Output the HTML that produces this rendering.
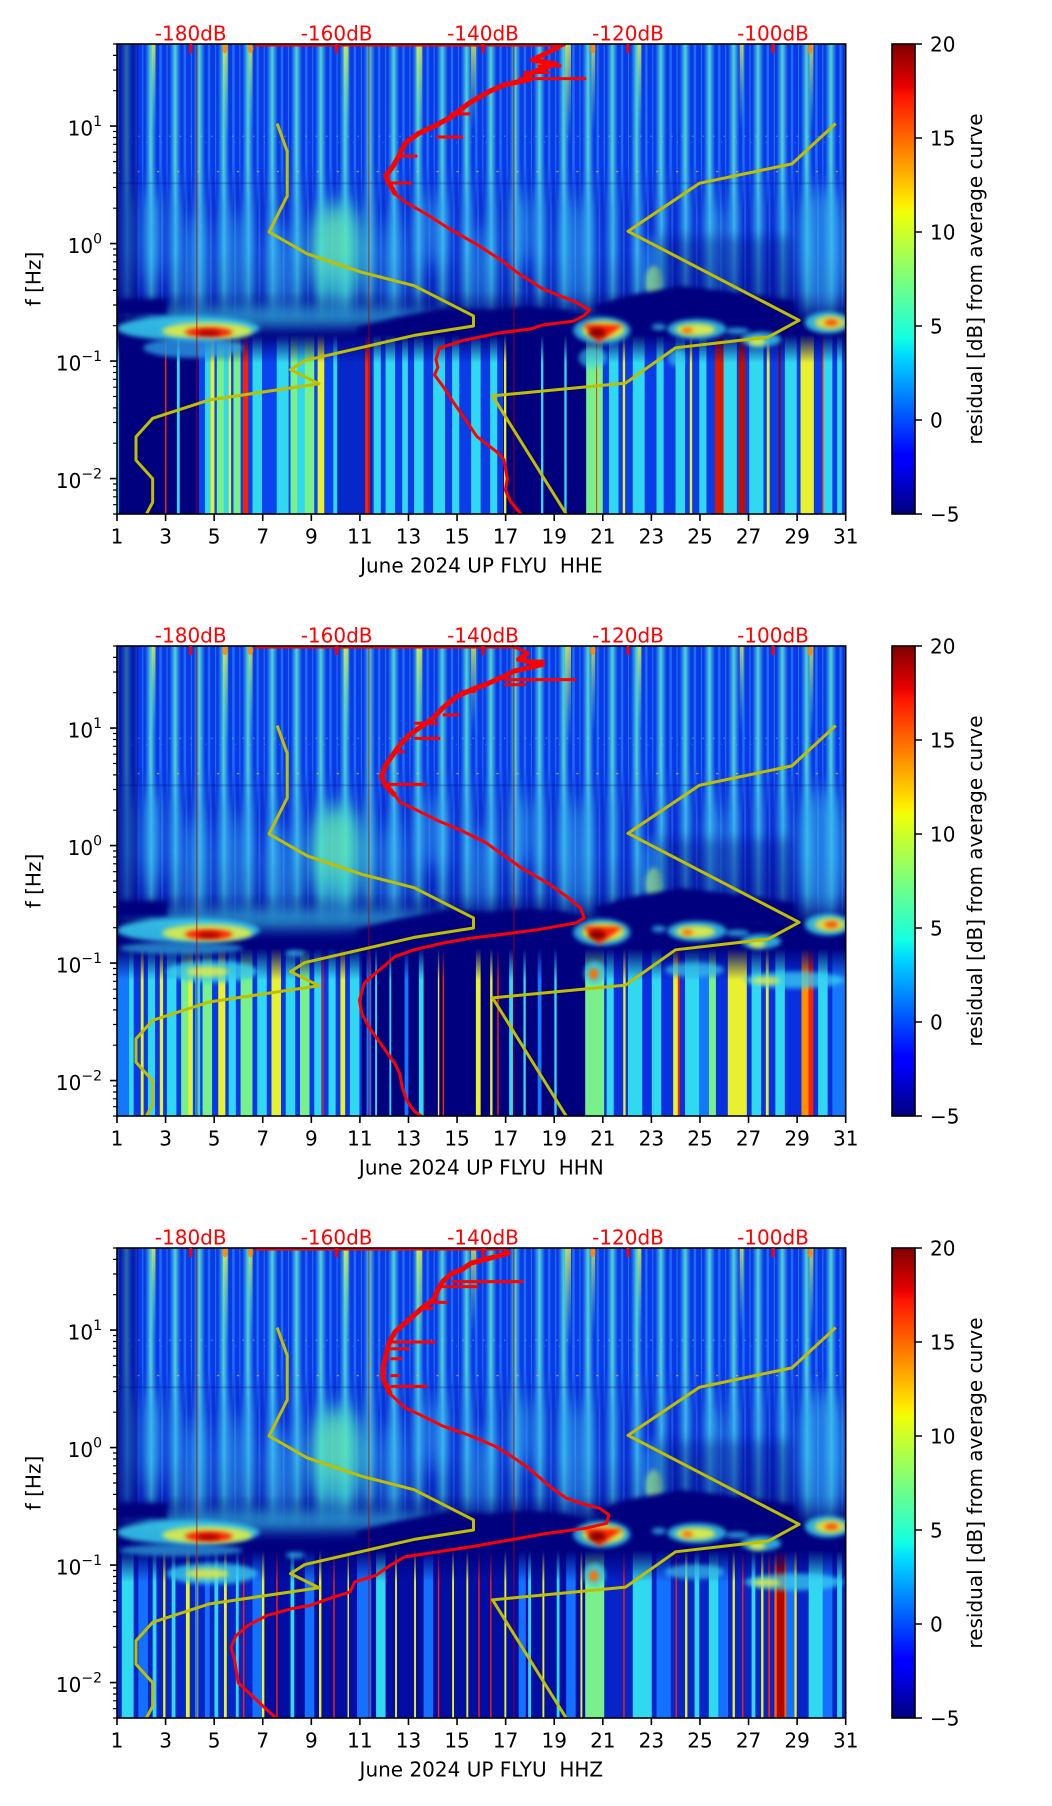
<!DOCTYPE html>
<html><head><meta charset="utf-8">
<style>
html,body{margin:0;padding:0;background:#fff}
svg{display:block}
text{font-family:"DejaVu Sans","Liberation Sans",sans-serif;font-size:20px}
</style></head><body>
<svg xmlns="http://www.w3.org/2000/svg" width="1052" height="1806" viewBox="0 0 1052 1806">
<defs>
<clipPath id="cz"><rect x="15" y="25" width="1533" height="1400"/></clipPath>
<linearGradient id="jet" x1="0" y1="1" x2="0" y2="0">
<stop offset="0" stop-color="#00007f"/><stop offset=".11" stop-color="#0000ff"/><stop offset=".125" stop-color="#0000ff"/><stop offset=".34" stop-color="#00dcff"/><stop offset=".375" stop-color="#14ffe2"/><stop offset=".5" stop-color="#7bff7b"/><stop offset=".64" stop-color="#efff08"/><stop offset=".66" stop-color="#ffec00"/><stop offset=".89" stop-color="#ff1300"/><stop offset=".91" stop-color="#e80000"/><stop offset="1" stop-color="#7f0000"/>
</linearGradient>
<linearGradient id="hgU"><stop offset="0" stop-color="#48d8f0" stop-opacity="0"/><stop offset=".5" stop-color="#58e8d0" stop-opacity=".9"/><stop offset="1" stop-color="#48d8f0" stop-opacity="0"/></linearGradient>
<linearGradient id="hgF"><stop offset="0" stop-color="#2a9cf4" stop-opacity="0"/><stop offset=".5" stop-color="#44ccee" stop-opacity=".85"/><stop offset="1" stop-color="#2a9cf4" stop-opacity="0"/></linearGradient>
<linearGradient id="vY" x1="0" y1="0" x2="0" y2="1"><stop offset="0" stop-color="#e8f040" stop-opacity=".8"/><stop offset="1" stop-color="#40e0c0" stop-opacity="0"/></linearGradient>
<linearGradient id="gmU" gradientUnits="userSpaceOnUse" x1="0" y1="380" x2="0" y2="520"><stop offset="0" stop-color="#fff"/><stop offset="1" stop-color="#000"/></linearGradient>
<linearGradient id="gmF" gradientUnits="userSpaceOnUse" x1="0" y1="760" x2="0" y2="860"><stop offset="0" stop-color="#fff"/><stop offset="1" stop-color="#000"/></linearGradient>
<linearGradient id="gD" gradientUnits="userSpaceOnUse" x1="0" y1="640" x2="0" y2="850"><stop offset="0" stop-color="#000060" stop-opacity="0"/><stop offset="1" stop-color="#000060" stop-opacity=".35"/></linearGradient>
<linearGradient id="gmS1" gradientUnits="userSpaceOnUse" x1="0" y1="890" x2="0" y2="975"><stop offset="0" stop-color="#000"/><stop offset="1" stop-color="#fff"/></linearGradient>
<linearGradient id="gmS23" gradientUnits="userSpaceOnUse" x1="0" y1="925" x2="0" y2="1020"><stop offset="0" stop-color="#000"/><stop offset="1" stop-color="#fff"/></linearGradient>
<mask id="mU" maskUnits="userSpaceOnUse" x="0" y="0" width="1600" height="1500"><rect x="0" y="0" width="1600" height="1500" fill="url(#gmU)"/></mask>
<mask id="mF" maskUnits="userSpaceOnUse" x="0" y="0" width="1600" height="1500"><rect x="0" y="0" width="1600" height="1500" fill="url(#gmF)"/></mask>
<mask id="mS1" maskUnits="userSpaceOnUse" x="0" y="0" width="1600" height="1500"><rect x="0" y="0" width="1600" height="1500" fill="url(#gmS1)"/></mask>
<mask id="mS23" maskUnits="userSpaceOnUse" x="0" y="0" width="1600" height="1500"><rect x="0" y="0" width="1600" height="1500" fill="url(#gmS23)"/></mask>
<filter id="b1" x="-1" y="-1" width="3" height="3"><feGaussianBlur stdDeviation="5 7"/></filter>
<filter id="b2" x="-1" y="-1" width="3" height="3"><feGaussianBlur stdDeviation="12 18"/></filter>
<filter id="b3" x="-1" y="-1" width="3" height="3"><feGaussianBlur stdDeviation="20 30"/></filter>
<pattern id="pU" patternUnits="userSpaceOnUse" x="15" y="0" width="51.1" height="1500">
<rect width="51.1" height="1500" fill="#0a3ae8"/>
<rect x="8" width="24" height="1500" fill="url(#hgU)"/>
<rect x="38" width="5" height="1500" fill="#2a90ff" opacity=".6"/>
<rect x="2" width="2" height="1500" fill="#30c0ff" opacity=".5"/>
</pattern>
<pattern id="pF" patternUnits="userSpaceOnUse" x="15" y="0" width="51.1" height="1500">
<rect width="51.1" height="1500" fill="#0c30d4"/>
<rect x="1" width="40" height="1500" fill="url(#hgF)"/>
<rect x="42" width="4" height="1500" fill="#2a80ff" opacity=".5"/>
</pattern>

<g id="upper">
<rect x="15" y="25" width="1533" height="1400" fill="#00007f"/>
<rect x="15" y="25" width="1533" height="860" fill="url(#pF)" mask="url(#mF)"/>
<rect x="15" y="560" width="1533" height="300" fill="url(#gD)"/>
<rect x="15" y="25" width="1533" height="520" fill="url(#pU)" mask="url(#mU)"/>
<rect x="15" y="437" width="1533" height="6" fill="#000070" opacity=".22"/>
<line x1="15" y1="405" x2="1548" y2="405" stroke="#f0d020" stroke-width="4" stroke-dasharray="5 37" opacity=".6"/>
<line x1="15" y1="300" x2="1548" y2="300" stroke="#80f0c0" stroke-width="4" stroke-dasharray="3 19" opacity=".45"/>
<line x1="15" y1="318" x2="1548" y2="318" stroke="#80f0c0" stroke-width="3" stroke-dasharray="2 29" opacity=".35"/>
<g fill="url(#vY)">
<rect x="88" y="25" width="8" height="260"/><rect x="238" y="25" width="10" height="300"/><rect x="292" y="25" width="8" height="260"/><rect x="492" y="25" width="10" height="300"/><rect x="645" y="25" width="12" height="320"/><rect x="760" y="25" width="10" height="260"/><rect x="958" y="25" width="12" height="300"/><rect x="1013" y="25" width="8" height="260"/><rect x="1110" y="25" width="8" height="260"/><rect x="1325" y="25" width="8" height="260"/><rect x="1472" y="25" width="8" height="260"/>
</g>
<g fill="#ff8000" opacity=".8"><ellipse cx="242" cy="38" rx="6" ry="14"/><ellipse cx="296" cy="38" rx="6" ry="14"/><ellipse cx="1016" cy="38" rx="6" ry="14"/><ellipse cx="1473" cy="40" rx="6" ry="14"/></g>
<rect x="15" y="25" width="45" height="800" fill="#000080" opacity=".5"/>
</g>

<g id="midA">
<g filter="url(#b3)" fill="#38bcf0" opacity=".55">
<ellipse cx="90" cy="600" rx="22" ry="140"/><ellipse cx="180" cy="680" rx="26" ry="150"/><ellipse cx="265" cy="670" rx="24" ry="150"/><ellipse cx="360" cy="690" rx="30" ry="130"/><ellipse cx="595" cy="680" rx="24" ry="140"/><ellipse cx="780" cy="690" rx="22" ry="130"/><ellipse cx="980" cy="650" rx="30" ry="170"/><ellipse cx="1280" cy="640" rx="24" ry="150"/><ellipse cx="1500" cy="640" rx="55" ry="190"/><ellipse cx="870" cy="580" rx="24" ry="110"/><ellipse cx="680" cy="580" rx="24" ry="110"/>
</g>
<ellipse cx="480" cy="650" rx="62" ry="160" fill="#40dcd0" opacity=".75" filter="url(#b3)"/>
<ellipse cx="475" cy="620" rx="35" ry="100" fill="#90ff90" opacity=".4" filter="url(#b3)"/>
<ellipse cx="1145" cy="700" rx="28" ry="100" fill="#30b4f0" opacity=".5" filter="url(#b2)"/>
<ellipse cx="1145" cy="735" rx="18" ry="50" fill="#a0f080" opacity=".7" filter="url(#b1)"/>
<ellipse cx="380" cy="838" rx="330" ry="32" fill="#38c8f0" opacity=".6" filter="url(#b2)"/>
<g fill="#00007f" filter="url(#b1)">
<polygon points="520,870 600,840 700,812 800,818 880,808 960,818 1000,835 1000,1000 700,1000 520,960"/>
<polygon points="1020,805 1090,775 1200,745 1320,765 1440,790 1445,848 1300,850 1180,855 1090,858 1040,850"/>
<rect x="15" y="785" width="105" height="45"/>
<rect x="15" y="918" width="1533" height="36" opacity=".5"/>
</g>
<polygon points="1150,600 1440,600 1440,800 1150,760" fill="#000080" opacity=".35" filter="url(#b2)"/>
</g>

<g id="midB">
<ellipse cx="165" cy="872" rx="150" ry="36" fill="#38d0f0" opacity=".85" filter="url(#b1)"/>
<ellipse cx="205" cy="880" rx="95" ry="26" fill="#e8f040" opacity=".85" filter="url(#b1)"/>
<ellipse cx="208" cy="884" rx="50" ry="15" fill="#ff2000" filter="url(#b1)"/>
<ellipse cx="208" cy="886" rx="24" ry="8" fill="#a00000" filter="url(#b1)"/>
<ellipse cx="1035" cy="878" rx="60" ry="40" fill="#38d0f0" opacity=".8" filter="url(#b1)"/>
<ellipse cx="1038" cy="877" rx="45" ry="27" fill="#f0f030" opacity=".9" filter="url(#b1)"/>
<polygon points="995,860 1080,862 1028,915" fill="#ff2000" filter="url(#b1)"/>
<ellipse cx="1025" cy="885" rx="18" ry="14" fill="#8a0000" filter="url(#b1)"/>
<ellipse cx="1235" cy="874" rx="62" ry="30" fill="#38d0f0" opacity=".8" filter="url(#b1)"/>
<ellipse cx="1232" cy="876" rx="42" ry="18" fill="#e8f040" opacity=".9" filter="url(#b1)"/>
<ellipse cx="1215" cy="878" rx="12" ry="8" fill="#ff6000" filter="url(#b1)"/>
<ellipse cx="1370" cy="905" rx="42" ry="22" fill="#38d0f0" opacity=".8" filter="url(#b1)"/>
<ellipse cx="1362" cy="912" rx="18" ry="12" fill="#e8f040" opacity=".9" filter="url(#b1)"/>
<ellipse cx="1510" cy="855" rx="48" ry="32" fill="#38d0f0" opacity=".85" filter="url(#b1)"/>
<ellipse cx="1515" cy="855" rx="32" ry="20" fill="#f0e030" opacity=".9" filter="url(#b1)"/>
<ellipse cx="1518" cy="855" rx="14" ry="9" fill="#ff4000" filter="url(#b1)"/>
<ellipse cx="1320" cy="880" rx="25" ry="10" fill="#38c8f0" opacity=".7" filter="url(#b1)"/>
<ellipse cx="1155" cy="868" rx="15" ry="10" fill="#38c8f0" opacity=".7" filter="url(#b1)"/>
</g>

<g id="sec23">
<ellipse cx="150" cy="925" rx="130" ry="18" fill="#38c8f0" opacity=".6" filter="url(#b1)"/>
<ellipse cx="215" cy="995" rx="95" ry="32" fill="#38d0f0" opacity=".8" filter="url(#b1)"/>
<ellipse cx="205" cy="995" rx="45" ry="16" fill="#e8f040" opacity=".8" filter="url(#b1)"/>
<ellipse cx="1020" cy="1000" rx="22" ry="35" fill="#38d0f0" opacity=".8" filter="url(#b1)"/>
<ellipse cx="1018" cy="1002" rx="10" ry="18" fill="#ff7000" filter="url(#b1)"/>
<ellipse cx="1230" cy="990" rx="62" ry="22" fill="#38c8f0" opacity=".7" filter="url(#b1)"/>
<ellipse cx="1440" cy="1020" rx="105" ry="25" fill="#38d0f0" opacity=".75" filter="url(#b1)"/>
<ellipse cx="1380" cy="1022" rx="30" ry="12" fill="#e8f040" opacity=".8" filter="url(#b1)"/>
<ellipse cx="390" cy="940" rx="20" ry="10" fill="#38c8f0" opacity=".7" filter="url(#b1)"/>
</g>

<g id="ovl" fill="none">
<path d="M183 25V1425M545 25V1425M850 25V1425" stroke="#b00000" stroke-width="1" vector-effect="non-scaling-stroke" opacity=".8"/>
<path d="M352 262L373 345L373 478L335 585L415 650L530 705L640 745L765 835L765 865L640 893L410 968L380 995L440 1037L210 1085L90 1140L55 1195L55 1265L90 1320L90 1390L77 1425" stroke="#bfbf00" stroke-width="3" stroke-linejoin="round" vector-effect="non-scaling-stroke"/>
<path d="M1527 262L1435 382L1240 440L1090 583L1450 848L1385 898L1190 930L1085 1035L805 1073L960 1425" stroke="#bfbf00" stroke-width="3" stroke-linejoin="round" vector-effect="non-scaling-stroke"/>
</g>

<g id="ax">
<rect x="117" y="44" width="728.7" height="470" fill="none" stroke="#000" stroke-width="1.6"/>
<g fill="#ff0000"><rect x="189.2" y="44" width="3" height="9"/><rect x="335.1" y="44" width="3" height="9"/><rect x="481.5" y="44" width="3" height="9"/><rect x="626.5" y="44" width="3" height="9"/><rect x="771.5" y="44" width="3" height="9"/></g>
<g fill="#ff0000" text-anchor="middle"><text x="190.7" y="40.5">-180dB</text><text x="336.6" y="40.5">-160dB</text><text x="483" y="40.5">-140dB</text><text x="628" y="40.5">-120dB</text><text x="773" y="40.5">-100dB</text></g>
<path d="M117 514v7M165.58 514v7M214.16 514v7M262.74 514v7M311.32 514v7M359.9 514v7M408.48 514v7M457.06 514v7M505.64 514v7M554.22 514v7M602.8 514v7M651.38 514v7M699.96 514v7M748.54 514v7M797.12 514v7M845.7 514v7M117 126.1h-7M117 243.6h-7M117 361.1h-7M117 478.6h-7" stroke="#000" stroke-width="1.6" fill="none"/>
<path d="M117 44h-4M117 55.4h-4M117 70h-4M117 90.7h-4M117 131.5h-4M117 137.5h-4M117 144.3h-4M117 152.2h-4M117 161.5h-4M117 172.9h-4M117 187.5h-4M117 208.2h-4M117 249h-4M117 255h-4M117 261.8h-4M117 269.7h-4M117 279h-4M117 290.4h-4M117 305h-4M117 325.7h-4M117 366.5h-4M117 372.5h-4M117 379.3h-4M117 387.2h-4M117 396.5h-4M117 407.9h-4M117 422.5h-4M117 443.2h-4M117 484h-4M117 490h-4M117 496.8h-4M117 504.7h-4M117 514h-4" stroke="#000" stroke-width="1.2" fill="none"/>
<g text-anchor="middle"><text x="117" y="543.5">1</text><text x="165.58" y="543.5">3</text><text x="214.16" y="543.5">5</text><text x="262.74" y="543.5">7</text><text x="311.32" y="543.5">9</text><text x="359.9" y="543.5">11</text><text x="408.48" y="543.5">13</text><text x="457.06" y="543.5">15</text><text x="505.64" y="543.5">17</text><text x="554.22" y="543.5">19</text><text x="602.8" y="543.5">21</text><text x="651.38" y="543.5">23</text><text x="699.96" y="543.5">25</text><text x="748.54" y="543.5">27</text><text x="797.12" y="543.5">29</text><text x="845.7" y="543.5">31</text></g>
<g text-anchor="end"><text x="102" y="135.5">10<tspan dy="-9.5" font-size="14">1</tspan></text><text x="102" y="253">10<tspan dy="-9.5" font-size="14">0</tspan></text><text x="102" y="370.5">10<tspan dy="-9.5" font-size="14">−1</tspan></text><text x="102" y="488">10<tspan dy="-9.5" font-size="14">−2</tspan></text></g>
<text transform="translate(40.5,279) rotate(-90)" text-anchor="middle">f [Hz]</text>
<rect x="892" y="44" width="23" height="470" fill="url(#jet)" stroke="#000" stroke-width="1.6"/>
<path d="M915 514h7M915 420h7M915 326h7M915 232h7M915 138h7M915 44h7" stroke="#000" stroke-width="1.6"/>
<g><text x="930" y="521.3">−5</text><text x="930" y="427.3">0</text><text x="930" y="333.3">5</text><text x="930" y="239.3">10</text><text x="930" y="145.3">15</text><text x="930" y="51.3">20</text></g>
<text transform="translate(982,279) rotate(-90)" text-anchor="middle">residual [dB] from average curve</text>
</g>
</defs>

<rect width="1052" height="1806" fill="#fff"/>

<!-- Panel 1 HHE -->
<g transform="translate(109.87,35.607) scale(0.47534,0.335714)" clip-path="url(#cz)">
<use href="#upper"/>
<use href="#midA"/>
<g mask="url(#mS1)">
<rect x="187" y="880" width="293" height="545" fill="#0a44f0"/>
<rect x="480" y="880" width="71" height="545" fill="#0628c8"/>
<rect x="551" y="880" width="276" height="545" fill="#0a3ce8"/>
<rect x="1037" y="880" width="511" height="545" fill="#0a3ce8"/>
<path fill="#30d8f0" d="M16 880h3V1425h-3zM141 880h6V1425h-6zM200 880h15V1425h-15zM240 880h12V1425h-12zM300 880h20V1425h-20zM351 880h25V1425h-25zM395 880h20V1425h-20zM470 880h8V1425h-8zM555 880h15V1425h-15zM580 880h20V1425h-20zM615 880h12V1425h-12zM640 880h20V1425h-20zM680 880h25V1425h-25zM720 880h15V1425h-15zM760 880h20V1425h-20zM800 880h15V1425h-15zM907 880h5V1425h-5zM956 880h5V1425h-5zM1050 880h20V1425h-20zM1100 880h25V1425h-25zM1150 880h15V1425h-15zM1190 880h20V1425h-20zM1240 880h15V1425h-15zM1291 880h28V1425h-28zM1345 880h30V1425h-30zM1420 880h25V1425h-25zM1500 880h20V1425h-20zM1530 880h10V1425h-10z"/>
<path fill="#78f08c" d="M225 880h15V1425h-15zM260 880h15V1425h-15zM380 880h15V1425h-15zM410 880h20V1425h-20zM1002 880h35V1425h-35z"/>
<path fill="#e8f030" d="M212 880h8V1425h-8zM250 880h5V1425h-5zM437 880h14V1425h-14zM829 880h5V1425h-5zM1079 880h5V1425h-5zM1220 880h5V1425h-5zM1382 880h6V1425h-6zM1453 880h28V1425h-28z"/>
<path fill="#ff2000" d="M116 880h3V1425h-3zM280 880h11V1425h-11zM537 880h10V1425h-10zM1023 880h2V1425h-2zM1498 880h3V1425h-3z"/>
<path fill="#d81800" d="M1273 880h18V1425h-18z"/>
<path fill="#c01000" d="M1323 880h14V1425h-14z"/>
<path fill="#900000" d="M1407 880h4V1425h-4z"/>
</g>
<use href="#midB"/>
<ellipse cx="175" cy="930" rx="105" ry="30" fill="#30b0f0" opacity=".7" filter="url(#b1)"/>
<ellipse cx="1016" cy="960" rx="30" ry="30" fill="#38d0f0" opacity=".6" filter="url(#b1)"/>
<ellipse cx="1192" cy="960" rx="18" ry="25" fill="#38d0f0" opacity=".6" filter="url(#b1)"/>
<use href="#ovl"/>
<g fill="none" stroke="#ff0000" stroke-linejoin="round">
<path vector-effect="non-scaling-stroke" stroke-width="3" d="M305 28H956L945 33L889 73L938 84L903 102L875 119L884 130L829 147L800 165L758 199L715 245L686 267L651 290L622 319L608 359L594 393L580 418L587 439L601 473L622 496L665 531L715 576L772 622L822 668L865 714L885 731L910 754L980 794L1009 817L998 834L974 851L910 862L885 874L822 885L743 908L693 931L686 965L690 988L683 1011L701 1045L722 1091L750 1148L772 1194L793 1217L814 1240L829 1263L836 1320L832 1354L843 1388L865 1425"/>
<path vector-effect="non-scaling-stroke" stroke-width="5" d="M945 33L889 73L938 84L903 102L875 119L884 130L829 147L800 165L758 199L715 245L686 267L651 290L622 319L608 359L594 393L580 418L587 439L601 473"/>
<path vector-effect="non-scaling-stroke" stroke-width="3" d="M860 128H1002M715 233H758M686 302H743M608 359H647M587 439H636M900 90H950M870 110H925"/>
</g>
</g>

<!-- Panel 2 HHN -->
<g transform="translate(109.87,637.607) scale(0.47534,0.335714)" clip-path="url(#cz)">
<use href="#upper"/>
<use href="#midA"/>
<g mask="url(#mS23)">
<rect x="15" y="900" width="515" height="525" fill="#0838e8"/>
<rect x="1040" y="900" width="508" height="525" fill="#0830e0"/>
<path fill="#30d8f0" d="M40 900h10V1425h-10zM80 900h15V1425h-15zM120 900h20V1425h-20zM180 900h10V1425h-10zM250 900h15V1425h-15zM310 900h20V1425h-20zM370 900h20V1425h-20zM430 900h15V1425h-15zM460 900h15V1425h-15zM505 900h20V1425h-20zM558 900h4V1425h-4zM588 900h4V1425h-4zM650 900h10V1425h-10zM840 900h8V1425h-8zM870 900h5V1425h-5zM935 900h5V1425h-5zM1045 900h15V1425h-15zM1090 900h30V1425h-30zM1140 900h20V1425h-20zM1210 900h30V1425h-30zM1350 900h20V1425h-20zM1400 900h20V1425h-20zM1490 900h20V1425h-20z"/>
<path fill="#78f08c" d="M150 900h25V1425h-25zM195 900h20V1425h-20zM275 900h25V1425h-25zM400 900h20V1425h-20zM1260 900h15V1425h-15zM1000 900h40V1425h-40z"/>
<path fill="#e8f030" d="M65 900h6V1425h-6zM105 900h7V1425h-7zM165 900h8V1425h-8zM228 900h15V1425h-15zM340 900h20V1425h-20zM485 900h10V1425h-10zM690 900h3V1425h-3zM770 900h10V1425h-10zM800 900h5V1425h-5zM1080 900h5V1425h-5zM1185 900h10V1425h-10zM1300 900h40V1425h-40zM1380 900h6V1425h-6z"/>
<path fill="#1478ff" d="M15 900h25V1425h-25zM540 900h10V1425h-10zM620 900h8V1425h-8zM900 900h8V1425h-8zM1520 900h28V1425h-28zM1240 900h20V1425h-20z"/>
<path fill="#ff9000" d="M1455 900h15V1425h-15z"/>
<path fill="#ff2000" d="M447 900h3V1425h-3zM700 900h3V1425h-3zM815 900h3V1425h-3zM1195 900h4V1425h-4zM1470 900h10V1425h-10z"/>
</g>
<use href="#midB"/>
<use href="#sec23"/>
<use href="#ovl"/>
<g fill="none" stroke="#ff0000" stroke-linejoin="round">
<path vector-effect="non-scaling-stroke" stroke-width="3" d="M305 28H850L880 45L860 65L910 80L850 100L830 115L790 140L770 150L730 175L700 210L680 240L650 270L630 290L610 320L595 350L580 380L572 415L580 440L600 470L610 490L640 510L690 545L740 575L790 610L830 650L870 690L920 730L960 770L990 805L998 835L980 850L900 870L820 885L760 895L700 910L640 930L600 950L580 975L550 1010L535 1030L525 1080L530 1120L545 1160L565 1200L590 1250L600 1270L610 1300L615 1340L625 1380L640 1410L655 1425"/>
<path vector-effect="non-scaling-stroke" stroke-width="5" d="M880 45L860 65L910 80L850 100L830 115L790 140L770 150L730 175L700 210L680 240L650 270L630 290L610 320L595 350L580 380L572 415L580 440L600 470"/>
<path vector-effect="non-scaling-stroke" stroke-width="3" d="M830 125H980M830 140H875M740 160H770M700 230H735M640 255H690M640 300H695M600 340H620M580 437H665M880 70H915"/>
</g>
</g>

<!-- Panel 3 HHZ -->
<g transform="translate(109.87,1239.607) scale(0.47534,0.335714)" clip-path="url(#cz)">
<use href="#upper"/>
<use href="#midA"/>
<g mask="url(#mS23)">
<rect x="15" y="900" width="1533" height="525" fill="#0624c8"/>
<rect x="300" y="900" width="700" height="525" fill="#00008a" opacity=".6"/>
<path fill="#30d8f0" d="M25 900h25V1425h-25zM90 900h8V1425h-8zM130 900h8V1425h-8zM180 900h6V1425h-6zM220 900h8V1425h-8zM265 900h6V1425h-6zM380 900h8V1425h-8zM560 900h20V1425h-20zM880 900h6V1425h-6zM940 900h6V1425h-6zM1100 900h40V1425h-40zM1230 900h10V1425h-10zM1260 900h40V1425h-40zM1350 900h8V1425h-8zM1470 900h30V1425h-30zM1530 900h10V1425h-10z"/>
<path fill="#1470ff" d="M60 900h20V1425h-20zM200 900h10V1425h-10zM300 900h20V1425h-20zM410 900h20V1425h-20zM520 900h30V1425h-30zM660 900h20V1425h-20zM860 900h15V1425h-15zM960 900h20V1425h-20zM1150 900h30V1425h-30zM1280 900h20V1425h-20zM1420 900h20V1425h-20zM1500 900h20V1425h-20z"/>
<path fill="#78f08c" d="M1000 900h40V1425h-40z"/>
<path fill="#e8f030" d="M112 900h5V1425h-5zM160 900h8V1425h-8zM240 900h6V1425h-6zM320 900h5V1425h-5zM440 900h5V1425h-5zM500 900h3V1425h-3zM600 900h4V1425h-4zM640 900h4V1425h-4zM720 900h4V1425h-4zM750 900h4V1425h-4zM830 900h4V1425h-4zM910 900h4V1425h-4zM990 900h4V1425h-4zM1210 900h5V1425h-5zM1310 900h5V1425h-5zM1370 900h5V1425h-5zM1440 900h5V1425h-5z"/>
<path fill="#ff2000" d="M280 900h3V1425h-3zM350 900h3V1425h-3zM470 900h3V1425h-3zM690 900h3V1425h-3zM775 900h3V1425h-3zM800 900h3V1425h-3zM1080 900h3V1425h-3zM1190 900h3V1425h-3zM1330 900h3V1425h-3zM1385 900h4V1425h-4z"/>
<path fill="#ff6000" d="M1398 900h25V1425h-25z"/>
<path fill="#b00800" d="M1403 900h16V1425h-16z"/>
</g>
<use href="#midB"/>
<use href="#sec23"/>
<use href="#ovl"/>
<g fill="none" stroke="#ff0000" stroke-linejoin="round">
<path vector-effect="non-scaling-stroke" stroke-width="3" d="M305 28H830L840 40L800 55L760 70L740 90L720 100L700 125L690 150L680 180L660 200L640 225L620 250L600 275L588 305L585 320L580 350L575 380L575 415L590 460L605 480L620 500L650 520L700 555L760 585L810 615L850 650L880 680L905 710L930 740L960 770L990 785L1030 800L1050 820L1045 845L1000 860L920 875L840 895L760 915L690 930L620 945L590 970L560 1000L515 1020L505 1050L470 1065L420 1090L380 1100L330 1120L290 1150L265 1180L255 1215L262 1250L270 1320L300 1360L330 1400L350 1425"/>
<path vector-effect="non-scaling-stroke" stroke-width="5" d="M840 40L800 55L760 70L740 90L720 100L700 125L690 150L680 180L660 200L640 225L620 250L600 275L588 305L585 320L580 350L575 380L575 415L590 460"/>
<path vector-effect="non-scaling-stroke" stroke-width="3" d="M720 125H870M690 140H775M680 187H710M650 205H680M590 305H685M590 325H630M590 355H615M590 405H610M590 437H668"/>
</g>
</g>

<use href="#ax"/>
<use href="#ax" transform="translate(0,602)"/>
<use href="#ax" transform="translate(0,1204)"/>
<text x="481.35" y="572.5" text-anchor="middle" style="white-space:pre">June 2024 UP FLYU  HHE</text>
<text x="481.35" y="1174.5" text-anchor="middle" style="white-space:pre">June 2024 UP FLYU  HHN</text>
<text x="481.35" y="1776.5" text-anchor="middle" style="white-space:pre">June 2024 UP FLYU  HHZ</text>
</svg>
</body></html>
